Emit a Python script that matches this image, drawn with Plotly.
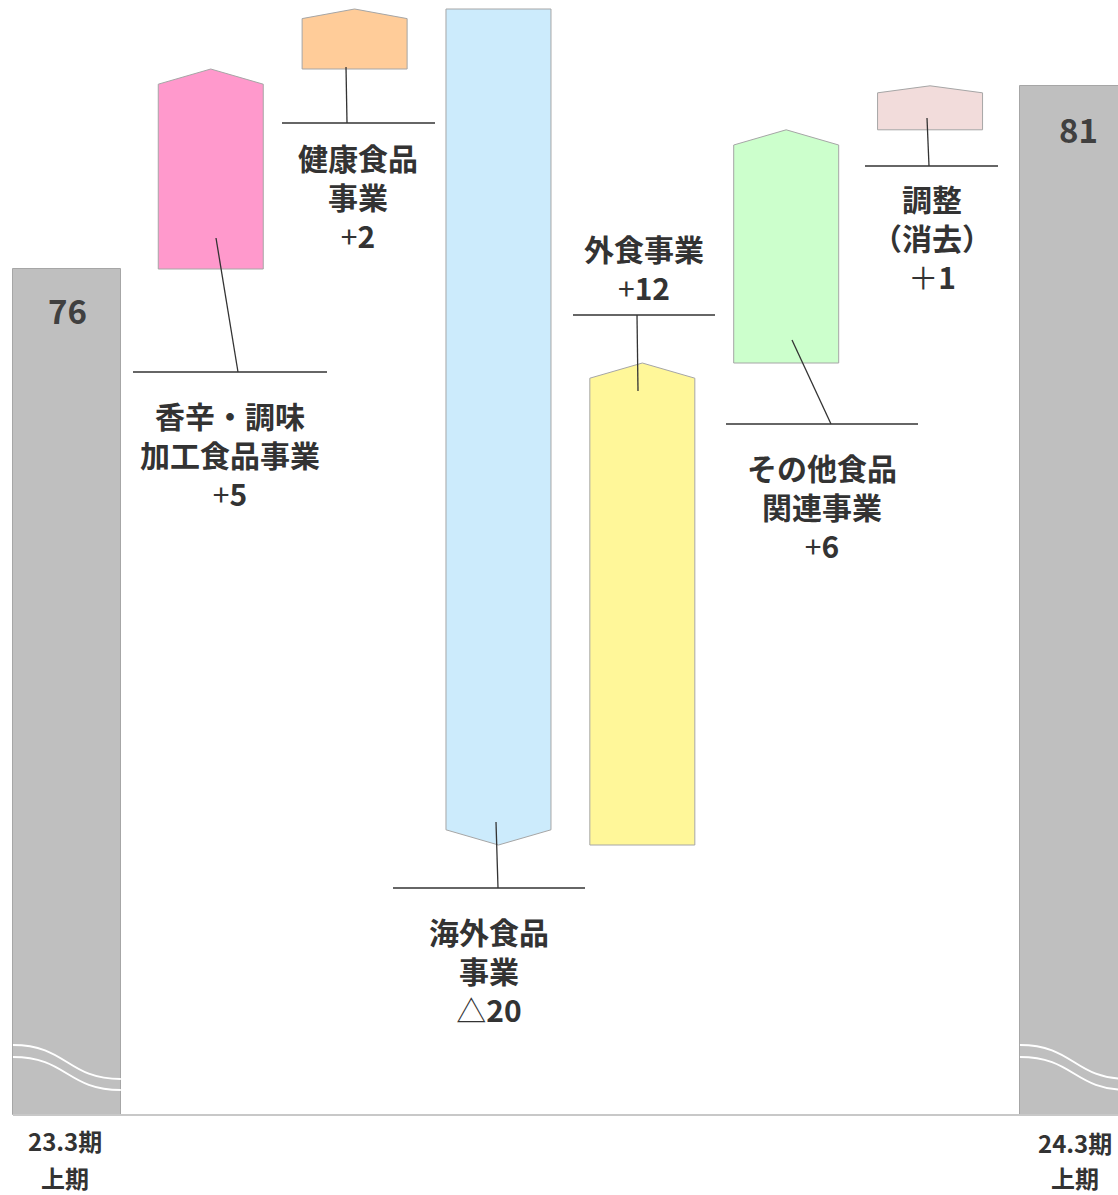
import plotly.graph_objects as go

# ---------------- data ----------------
categories = ["23.3期<br>上期", "香辛・調味加工食品事業", "健康食品事業", "海外食品事業",
              "外食事業", "その他食品関連事業", "調整（消去）", "24.3期<br>上期"]
start_value = 76.4
deltas = [5.0, 1.5, -20.9, 12.05, 5.83, 1.1]
delta_labels = ["+5", "+2", "△20", "+12", "+6", "＋1"]
segment_names = [["香辛・調味", "加工食品事業"], ["健康食品", "事業"], ["海外食品", "事業"],
                 ["外食事業"], ["その他食品", "関連事業"], ["調整", "（消去）"]]
period_labels = [["23.3期", "上期"], ["24.3期", "上期"]]
end_value = round(start_value + sum(deltas), 2)

# ---------------- style ----------------
W, H = 1118, 1195
MB = 77
PH = H - MB
bar_colors = ["#FF99CC", "#FFCC99", "#CCEBFC", "#FFF799", "#CCFFCC", "#F2DCDB"]
total_color = "#BFBFBF"
edge = "#A6A6A6"
txt = "#333333"
FONT = "Noto Sans CJK JP"


def X(px):
    return -0.465 + px / 143.86


def Y(py):
    return start_value + (269 - py) / 40.0


def PY(py):
    return 1 - py / PH


floor = Y(1115)

fig = go.Figure()

# totals
fig.add_trace(go.Bar(x=[0, 7], y=[start_value - floor, end_value - floor], base=floor, width=0.75,
                     marker=dict(color=total_color, line=dict(color=edge, width=1)),
                     hoverinfo="skip", showlegend=False))

# delta arrow bars
level = start_value
dw = 0.73
for i, d in enumerate(deltas):
    xc = i + 1
    base = level
    end = level + d
    head = min(0.38, 0.16 * abs(d))
    sgn = 1 if d > 0 else -1
    shoulder = end - sgn * head
    xs = [xc - dw / 2, xc - dw / 2, xc, xc + dw / 2, xc + dw / 2, xc - dw / 2]
    ys = [base, shoulder, end, shoulder, base, base]
    fig.add_trace(go.Scatter(x=xs, y=ys, mode="lines", fill="toself",
                             fillcolor=bar_colors[i], line=dict(color=edge, width=1),
                             hoverinfo="skip", showlegend=False))
    level = end

shapes = []
# break marks on total bars
for xc in [0, 7]:
    x0, x1 = xc - 0.375, xc + 0.375
    for (ya, yb) in [(1045, 1079), (1057, 1090)]:
        xm = (x0 + x1) / 2
        path = f"M {x0},{Y(ya)} C {xm},{Y(ya)} {xm},{Y(yb)} {x1},{Y(yb)}"
        shapes.append(dict(type="path", path=path, xref="x", yref="y",
                           line=dict(color="white", width=2)))

# baseline
shapes.append(dict(type="line", xref="x", yref="y", x0=X(13), x1=X(1118), y0=floor, y1=floor,
                   line=dict(color="#C8C8C8", width=2)))

# leader lines & callout rules (pixel estimates -> data coords)
leaders = [((216, 238), (238, 372), (133, 327)),
           ((346, 67), (347, 123), (282, 435)),
           ((496, 822), (498, 888), (393, 585)),
           ((638, 391), (637, 315), (573, 715)),
           ((792, 340), (831, 424), (726, 918)),
           ((927, 118), (929, 166), (865, 998))]
for (a, b, (h0, h1)) in leaders:
    shapes.append(dict(type="line", xref="x", yref="y", x0=X(a[0]), y0=Y(a[1]), x1=X(b[0]), y1=Y(b[1]),
                       line=dict(color=txt, width=1.3)))
    shapes.append(dict(type="line", xref="x", yref="y", x0=X(h0), y0=Y(b[1]), x1=X(h1), y1=Y(b[1]),
                       line=dict(color=txt, width=1.3)))

annotations = []
# (center x px, center y px of the text block)
label_pos = [(230, 454), (358, 196), (489, 970), (644, 267), (822, 506), (932, 237)]


def fmt_delta(s):
    sign, num = s[0], s[1:]
    return f"{sign}<b>{num}</b>"


for i, (cx, cy) in enumerate(label_pos):
    lines = [f"<b>{t}</b>" for t in segment_names[i]] + [fmt_delta(delta_labels[i])]
    annotations.append(dict(x=X(cx), y=Y(cy), xref="x", yref="y", text="<br>".join(lines),
                            showarrow=False, xanchor="center", yanchor="middle", align="center",
                            font=dict(family=FONT, size=30, color=txt)))

# total value labels
for xc, v, py, cx in [(0, start_value, 310, 67), (7, end_value, 129, 1078)]:
    annotations.append(dict(x=X(cx), y=Y(py), xref="x", yref="y", text=f"<b>{round(v):d}</b>",
                            showarrow=False, xanchor="center", yanchor="middle",
                            font=dict(family=FONT, size=33, color="#404040")))

# period labels
for (l1, l2), cx, yys in zip(period_labels, [65, 1075], [[1140, 1177], [1142, 1177]]):
    for t, yy in zip([l1, l2], yys):
        annotations.append(dict(x=X(cx), y=PY(yy), xref="x", yref="paper", text=f"<b>{t}</b>",
                                showarrow=False, xanchor="center", yanchor="middle",
                                font=dict(family=FONT, size=24, color=txt)))

fig.update_layout(
    width=W, height=H,
    margin=dict(l=0, r=0, t=0, b=MB),
    paper_bgcolor="white", plot_bgcolor="white",
    xaxis=dict(visible=False, range=[X(0), X(W)], fixedrange=True),
    yaxis=dict(visible=False, range=[Y(PH), Y(0)], fixedrange=True),
    shapes=shapes, annotations=annotations,
    bargap=0, showlegend=False,
)

fig.write_html("out.html")
